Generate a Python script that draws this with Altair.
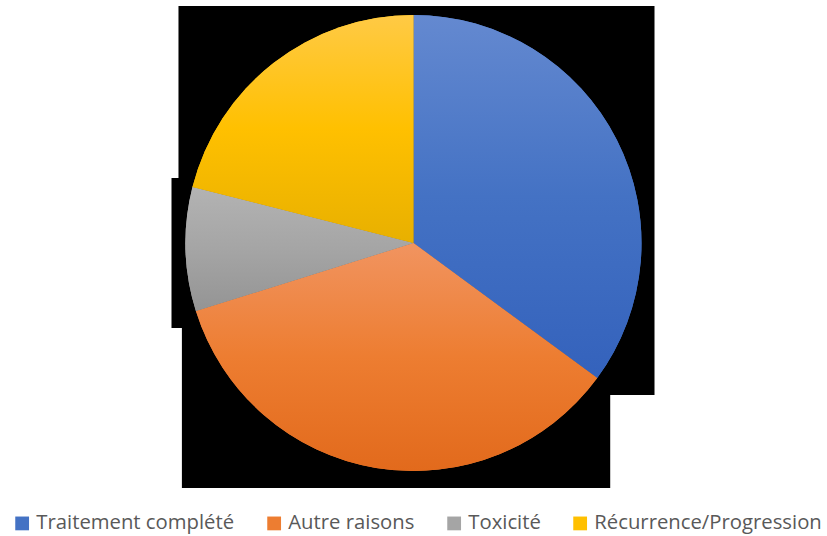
import altair as alt
import pandas as pd

categories = ["Traitement complété", "Autre raisons", "Toxicité", "Récurrence/Progression"]
values = [20, 20, 5, 12]
colors = ["#4472C4", "#ED7D31", "#A5A5A5", "#FFC000"]
light = ["#6489D0", "#F19460", "#B3B3B3", "#FFCA45"]
dark = ["#3462BC", "#E26A1C", "#949494", "#E8B000"]

W, H = 827, 456
R = 228
total = sum(values)

df = pd.DataFrame({"category": categories, "value": values, "order": list(range(len(values)))})

base = alt.Chart(df).transform_window(
    end="sum(value)", sort=[alt.SortField("order")], frame=[None, 0]
).transform_calculate(
    start="datum.end - datum.value",
    a0=f"(datum.end - datum.value) / {total} * 2 * PI",
    a1=f"datum.end / {total} * 2 * PI",
)

theta_scale = alt.Scale(domain=[0, total])

# shadow boxes (rendered black in reference)
boxes = base.transform_calculate(
    xmax="(datum.a0 <= PI/2 && datum.a1 >= PI/2) ? 1 : max(0, sin(datum.a0), sin(datum.a1))",
    xmin="(datum.a0 <= 3*PI/2 && datum.a1 >= 3*PI/2) ? -1 : min(0, sin(datum.a0), sin(datum.a1))",
    ymax="max(0, cos(datum.a0), cos(datum.a1))",
    ymin="(datum.a0 <= PI && datum.a1 >= PI) ? -1 : min(0, cos(datum.a0), cos(datum.a1))",
).transform_calculate(
    bx0=f"datum.xmin * {R} - 14",
    bx1=f"datum.xmax * {R} + 13",
    by0=f"datum.ymax * {R} + 9",
    by1=f"datum.ymin * {R} - 17",
).mark_rect(color="black").encode(
    x=alt.X("bx0:Q", scale=alt.Scale(domain=[-W / 2, W / 2], nice=False, zero=False), axis=None),
    x2="bx1:Q",
    y=alt.Y("by0:Q", scale=alt.Scale(domain=[-H / 2, H / 2], nice=False, zero=False), axis=None),
    y2="by1:Q",
)

solid = base.mark_arc(outerRadius=R).encode(
    theta=alt.Theta("start:Q", scale=theta_scale, stack=None),
    theta2="end:Q",
    color=alt.Color(
        "category:N",
        scale=alt.Scale(domain=categories, range=colors),
        sort=categories,
        legend=alt.Legend(
            title=None,
            orient="none",
            legendX=12,
            legendY=498,
            direction="horizontal",
            columns=4,
            symbolType="square",
            symbolSize=190,
            symbolStrokeWidth=0,
            labelFont="Open Sans",
            labelFontSize=20.3,
            labelColor="#595959",
            labelOffset=4,
            labelLimit=400,
            columnPadding=29,
            padding=0,
        ),
    ),
)

grad_layers = []
for cat, lc, bc, dc in zip(categories, light, colors, dark):
    g = alt.LinearGradient(
        gradient="linear",
        stops=[
            alt.GradientStop(color=lc, offset=0),
            alt.GradientStop(color=bc, offset=0.5),
            alt.GradientStop(color=dc, offset=1),
        ],
        x1=0, x2=0, y1=0, y2=1,
    )
    grad_layers.append(
        base.transform_filter(alt.datum.category == cat)
        .mark_arc(outerRadius=R, fill=g)
        .encode(
            theta=alt.Theta("start:Q", scale=theta_scale, stack=None),
            theta2="end:Q",
        )
    )

chart = alt.layer(boxes, solid, *grad_layers).properties(
    width=W,
    height=H,
    padding={"top": 15, "bottom": 65, "left": 0, "right": 0},
    autosize="none",
).configure_view(stroke=None)

chart.save("out.html", embed_options={"renderer": "svg", "actions": False})
